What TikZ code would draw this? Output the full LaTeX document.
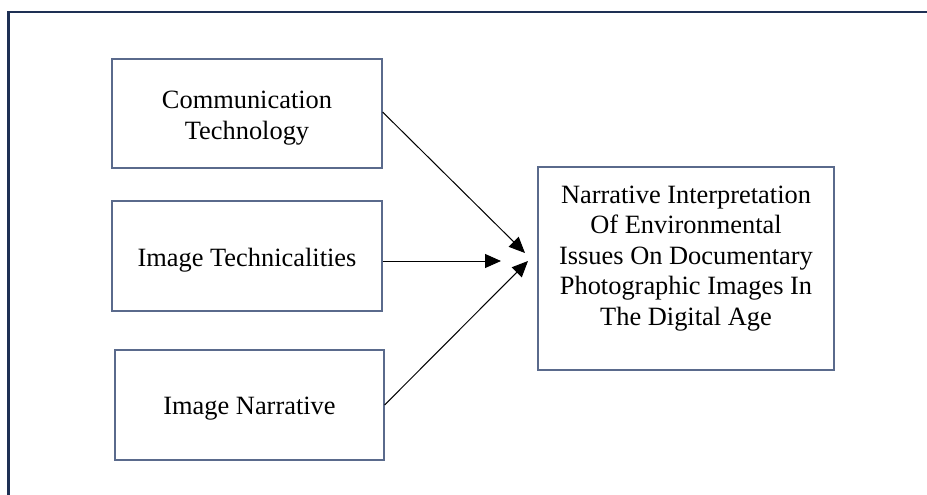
\documentclass[tikz,border=0pt]{standalone}
\usepackage{fontspec}
\setmainfont{Liberation Serif}
\usetikzlibrary{arrows.meta,calc}
\definecolor{framenavy}{RGB}{30,48,84}
\definecolor{boxedge}{RGB}{90,106,140}
\begin{document}
\begin{tikzpicture}[x=1pt,y=-1pt,
  factor/.style={draw=boxedge,line width=1.2pt,rectangle,inner sep=0pt},
  caption/.style={inner sep=0pt,align=center,font=\fontsize{26.4}{30.5}\selectfont},
  link/.style={line width=1pt,-{Triangle[length=16pt,width=14pt]}}]
  \useasboundingbox (0,0) rectangle (927,495);
  % page frame, open at the bottom and right
  \draw[framenavy,line width=2.6pt] (8.5,495) -- (8.5,12) -- (927,12);

  % independent variables
  \node[factor,minimum width=270pt,minimum height=109pt] (comm) at (247,113.5) {};
  \node[caption] (comm-text) at ([yshift=-4.5pt]comm.center) {Communication\\Technology};
  \node[factor,minimum width=270pt,minimum height=110pt] (tech) at (247,256) {};
  \node[caption] (tech-text) at ([yshift=-4pt]tech.center) {Image Technicalities};
  \node[factor,minimum width=269pt,minimum height=110pt] (narr) at (249.5,405) {};
  \node[caption] (narr-text) at ([yshift=-4pt]narr.center) {Image Narrative};

  % dependent variable
  \node[factor,minimum width=296pt,minimum height=203pt] (outcome) at (686,268.5) {};
  \node[caption] (outcome-text) at ([yshift=10pt]outcome.center)
    {Narrative Interpretation\\Of Environmental\\Issues On Documentary\\Photographic Images In\\The Digital Age};

  % arrow tips stop short of the outcome box
  \coordinate (t1) at (525,253);
  \coordinate (t2) at (501,261);
  \coordinate (t3) at (528,261);

  \draw[link] ([yshift=1.5pt]comm.east) -- (t1);
  \draw[link] ([yshift=-5pt]tech.east) -- (t2);
  \draw[link] (narr.east) -- (t3);
\end{tikzpicture}
\end{document}
